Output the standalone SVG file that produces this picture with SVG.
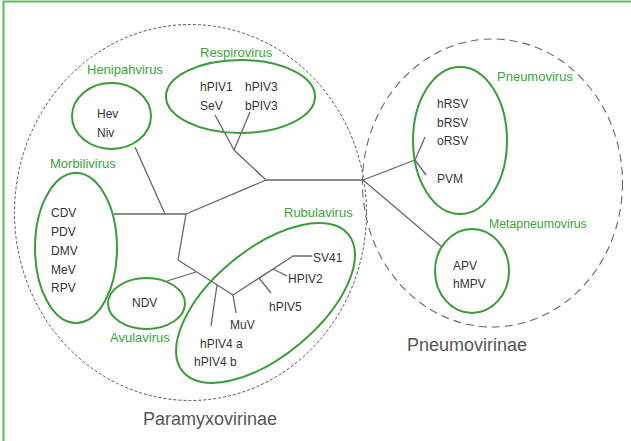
<svg xmlns="http://www.w3.org/2000/svg" width="631" height="441" viewBox="0 0 631 441">
<style>
text{font-family:"Liberation Sans",Arial,sans-serif}
.lbl{fill:#3aa33a;font-size:13px}
.sp{fill:#333;font-size:12px}
.fam{fill:#555;font-size:18px}
.grp{fill:none;stroke:#3a9b3a;stroke-width:2}
.br{fill:none;stroke:#666;stroke-width:1.3;stroke-linejoin:round}
</style>
<rect width="631" height="441" fill="#fff"/>
<path d="M3.5,441 V1.5 H631" fill="none" stroke="#5cb85c" stroke-width="2"/>

<g id="paramyxovirinae">
<ellipse cx="190.5" cy="212.5" rx="176" ry="188" fill="none" stroke="#555" stroke-width="1" stroke-dasharray="3,2"/>
<text class="fam" x="143" y="425">Paramyxovirinae</text>
</g>
<g id="pneumovirinae">
<ellipse cx="492.5" cy="183" rx="130" ry="144" fill="none" stroke="#666" stroke-width="1.1" stroke-dasharray="8,5"/>
<text class="fam" x="407" y="351">Pneumovirinae</text>
</g>

<g id="connectors">
<polyline class="br" points="215,115 234,150 250,112"/>
<polyline class="br" points="234,150 266,180 363,180"/>
<line class="br" x1="135" y1="147" x2="165" y2="214"/>
<line class="br" x1="114" y1="214" x2="186" y2="214"/>
<polyline class="br" points="186,214 266,180"/>
<polyline class="br" points="186,214 178,260 233,295 293,256 312,256"/>
<line class="br" x1="167" y1="281" x2="196" y2="272"/>
<line class="br" x1="217" y1="285" x2="211" y2="326"/>
<line class="br" x1="233" y1="295" x2="236" y2="313"/>
<line class="br" x1="273" y1="269" x2="287" y2="276"/>
<line class="br" x1="259" y1="278" x2="271" y2="293"/>
<line class="br" x1="363" y1="180" x2="415" y2="160"/>
<polyline class="br" points="425,137 415,160 426,175"/>
<line class="br" x1="363" y1="180" x2="442" y2="247"/>
</g>

<g id="respirovirus">
<ellipse class="grp" cx="240.5" cy="96.5" rx="74.5" ry="36.5"/>
<text class="lbl" x="200" y="57">Respirovirus</text>
<text class="sp" x="200" y="91">hPIV1</text>
<text class="sp" x="245" y="91">hPIV3</text>
<text class="sp" x="200" y="110">SeV</text>
<text class="sp" x="245" y="110">bPIV3</text>
</g>
<g id="henipahvirus">
<ellipse class="grp" cx="111.5" cy="116" rx="39.5" ry="33"/>
<text class="lbl" x="87" y="74">Henipahvirus</text>
<text class="sp" x="97" y="118">Hev</text>
<text class="sp" x="97" y="137">Niv</text>
</g>
<g id="morbilivirus">
<ellipse class="grp" cx="76" cy="248" rx="41" ry="75"/>
<text class="lbl" x="50" y="168">Morbilivirus</text>
<text class="sp" x="51" y="217">CDV</text>
<text class="sp" x="51" y="236">PDV</text>
<text class="sp" x="51" y="255">DMV</text>
<text class="sp" x="51" y="274">MeV</text>
<text class="sp" x="51" y="292">RPV</text>
</g>
<g id="avulavirus">
<ellipse class="grp" cx="146.5" cy="303.5" rx="38.5" ry="25.5"/>
<text class="lbl" x="110" y="342">Avulavirus</text>
<text class="sp" x="132" y="307">NDV</text>
</g>
<g id="rubulavirus">
<ellipse class="grp" cx="265.5" cy="303" rx="107.6" ry="53.2" transform="rotate(-39.7 265.5 303)"/>
<text class="lbl" x="284" y="217">Rubulavirus</text>
<text class="sp" x="313" y="262">SV41</text>
<text class="sp" x="288" y="283">HPIV2</text>
<text class="sp" x="269" y="311">hPIV5</text>
<text class="sp" x="230" y="329">MuV</text>
<text class="sp" x="200" y="348">hPIV4 a</text>
<text class="sp" x="194" y="366">hPIV4 b</text>
</g>
<g id="pneumovirus">
<ellipse class="grp" cx="460" cy="140.5" rx="47" ry="73.5"/>
<text class="lbl" x="497" y="81">Pneumovirus</text>
<text class="sp" x="437" y="108">hRSV</text>
<text class="sp" x="437" y="127">bRSV</text>
<text class="sp" x="437" y="145">oRSV</text>
<text class="sp" x="437" y="183">PVM</text>
</g>
<g id="metapneumovirus">
<ellipse class="grp" cx="472" cy="271" rx="37" ry="42"/>
<text class="lbl" x="489" y="228" style="font-size:12.3px">Metapneumovirus</text>
<text class="sp" x="453" y="270">APV</text>
<text class="sp" x="453" y="288">hMPV</text>
</g>
</svg>
